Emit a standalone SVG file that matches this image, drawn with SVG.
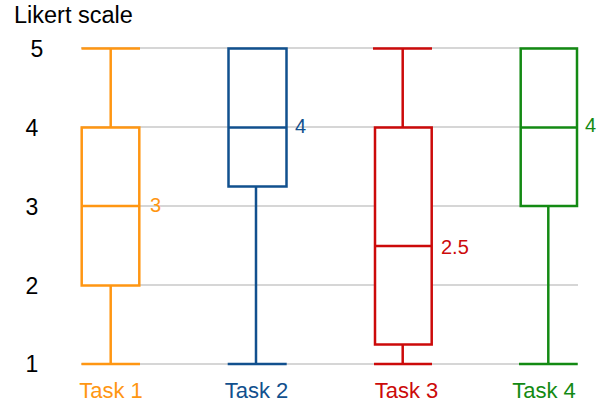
<svg xmlns="http://www.w3.org/2000/svg" width="605" height="405" viewBox="0 0 605 405">
<style>
text{font-family:"Liberation Sans",Arial,Helvetica,sans-serif}
.grid{stroke:#c8c8c8;stroke-width:1.5;fill:none}
.ax{font-size:23px;fill:#000;text-anchor:middle}
.title{font-size:23.5px;fill:#000}
.task{font-size:22px;text-anchor:middle}
.val{font-size:20px}
.bx{fill:#fff;stroke-width:2.5;stroke-linejoin:miter}
.ln{stroke-width:2.5;fill:none}
.o{stroke:#ff9612}.ot{fill:#ff9612}
.b{stroke:#11508e}.bt{fill:#11508e}
.r{stroke:#cc0a0a}.rt{fill:#cc0a0a}
.g{stroke:#138a13}.gt{fill:#138a13}
</style>
<rect width="605" height="405" fill="#fff"/>
<g id="axis">
<text class="title" x="14" y="23">Likert scale</text>
<text class="ax" x="37" y="57">5</text>
<text class="ax" x="32" y="136">4</text>
<text class="ax" x="32" y="215">3</text>
<text class="ax" x="32" y="294">2</text>
<text class="ax" x="32" y="372">1</text>
</g>
<g id="grid">
<line class="grid" x1="81" y1="48" x2="578" y2="48"/>
<line class="grid" x1="81" y1="127" x2="578" y2="127"/>
<line class="grid" x1="81" y1="206" x2="578" y2="206"/>
<line class="grid" x1="81" y1="285" x2="578" y2="285"/>
<line class="grid" x1="81" y1="364" x2="578" y2="364"/>
</g>
<g id="task1">
<line class="ln o" x1="110.7" y1="48" x2="110.7" y2="364"/>
<line class="ln o" x1="81.5" y1="48.5" x2="140" y2="48.5"/>
<line class="ln o" x1="81.5" y1="364" x2="140" y2="364"/>
<rect class="bx o" x="81.7" y="127.5" width="57.6" height="158"/>
<line class="ln o" x1="81.7" y1="206" x2="139.3" y2="206"/>
<text class="val ot" x="150" y="212">3</text>
<text class="task ot" x="111" y="398">Task 1</text>
</g>
<g id="task2">
<line class="ln b" x1="256" y1="186" x2="256" y2="364"/>
<line class="ln b" x1="227.7" y1="364" x2="286.7" y2="364"/>
<rect class="bx b" x="228.5" y="48.5" width="58" height="138"/>
<line class="ln b" x1="228.5" y1="127.5" x2="286.5" y2="127.5"/>
<text class="val bt" x="295" y="133">4</text>
<text class="task bt" x="256.5" y="398">Task 2</text>
</g>
<g id="task3">
<line class="ln r" x1="402.7" y1="48" x2="402.7" y2="364"/>
<line class="ln r" x1="373" y1="48.5" x2="432" y2="48.5"/>
<line class="ln r" x1="374" y1="364" x2="432" y2="364"/>
<rect class="bx r" x="375" y="127.5" width="56.7" height="217"/>
<line class="ln r" x1="375" y1="246" x2="431.7" y2="246"/>
<text class="val rt" x="441" y="254">2.5</text>
<text class="task rt" x="406.5" y="398">Task 3</text>
</g>
<g id="task4">
<line class="ln g" x1="548.3" y1="206" x2="548.3" y2="364"/>
<line class="ln g" x1="519" y1="364" x2="577.7" y2="364"/>
<rect class="bx g" x="520.7" y="48.5" width="56.3" height="157.5"/>
<line class="ln g" x1="520.7" y1="127.5" x2="577" y2="127.5"/>
<text class="val gt" x="585" y="132">4</text>
<text class="task gt" x="544" y="398">Task 4</text>
</g>
</svg>
